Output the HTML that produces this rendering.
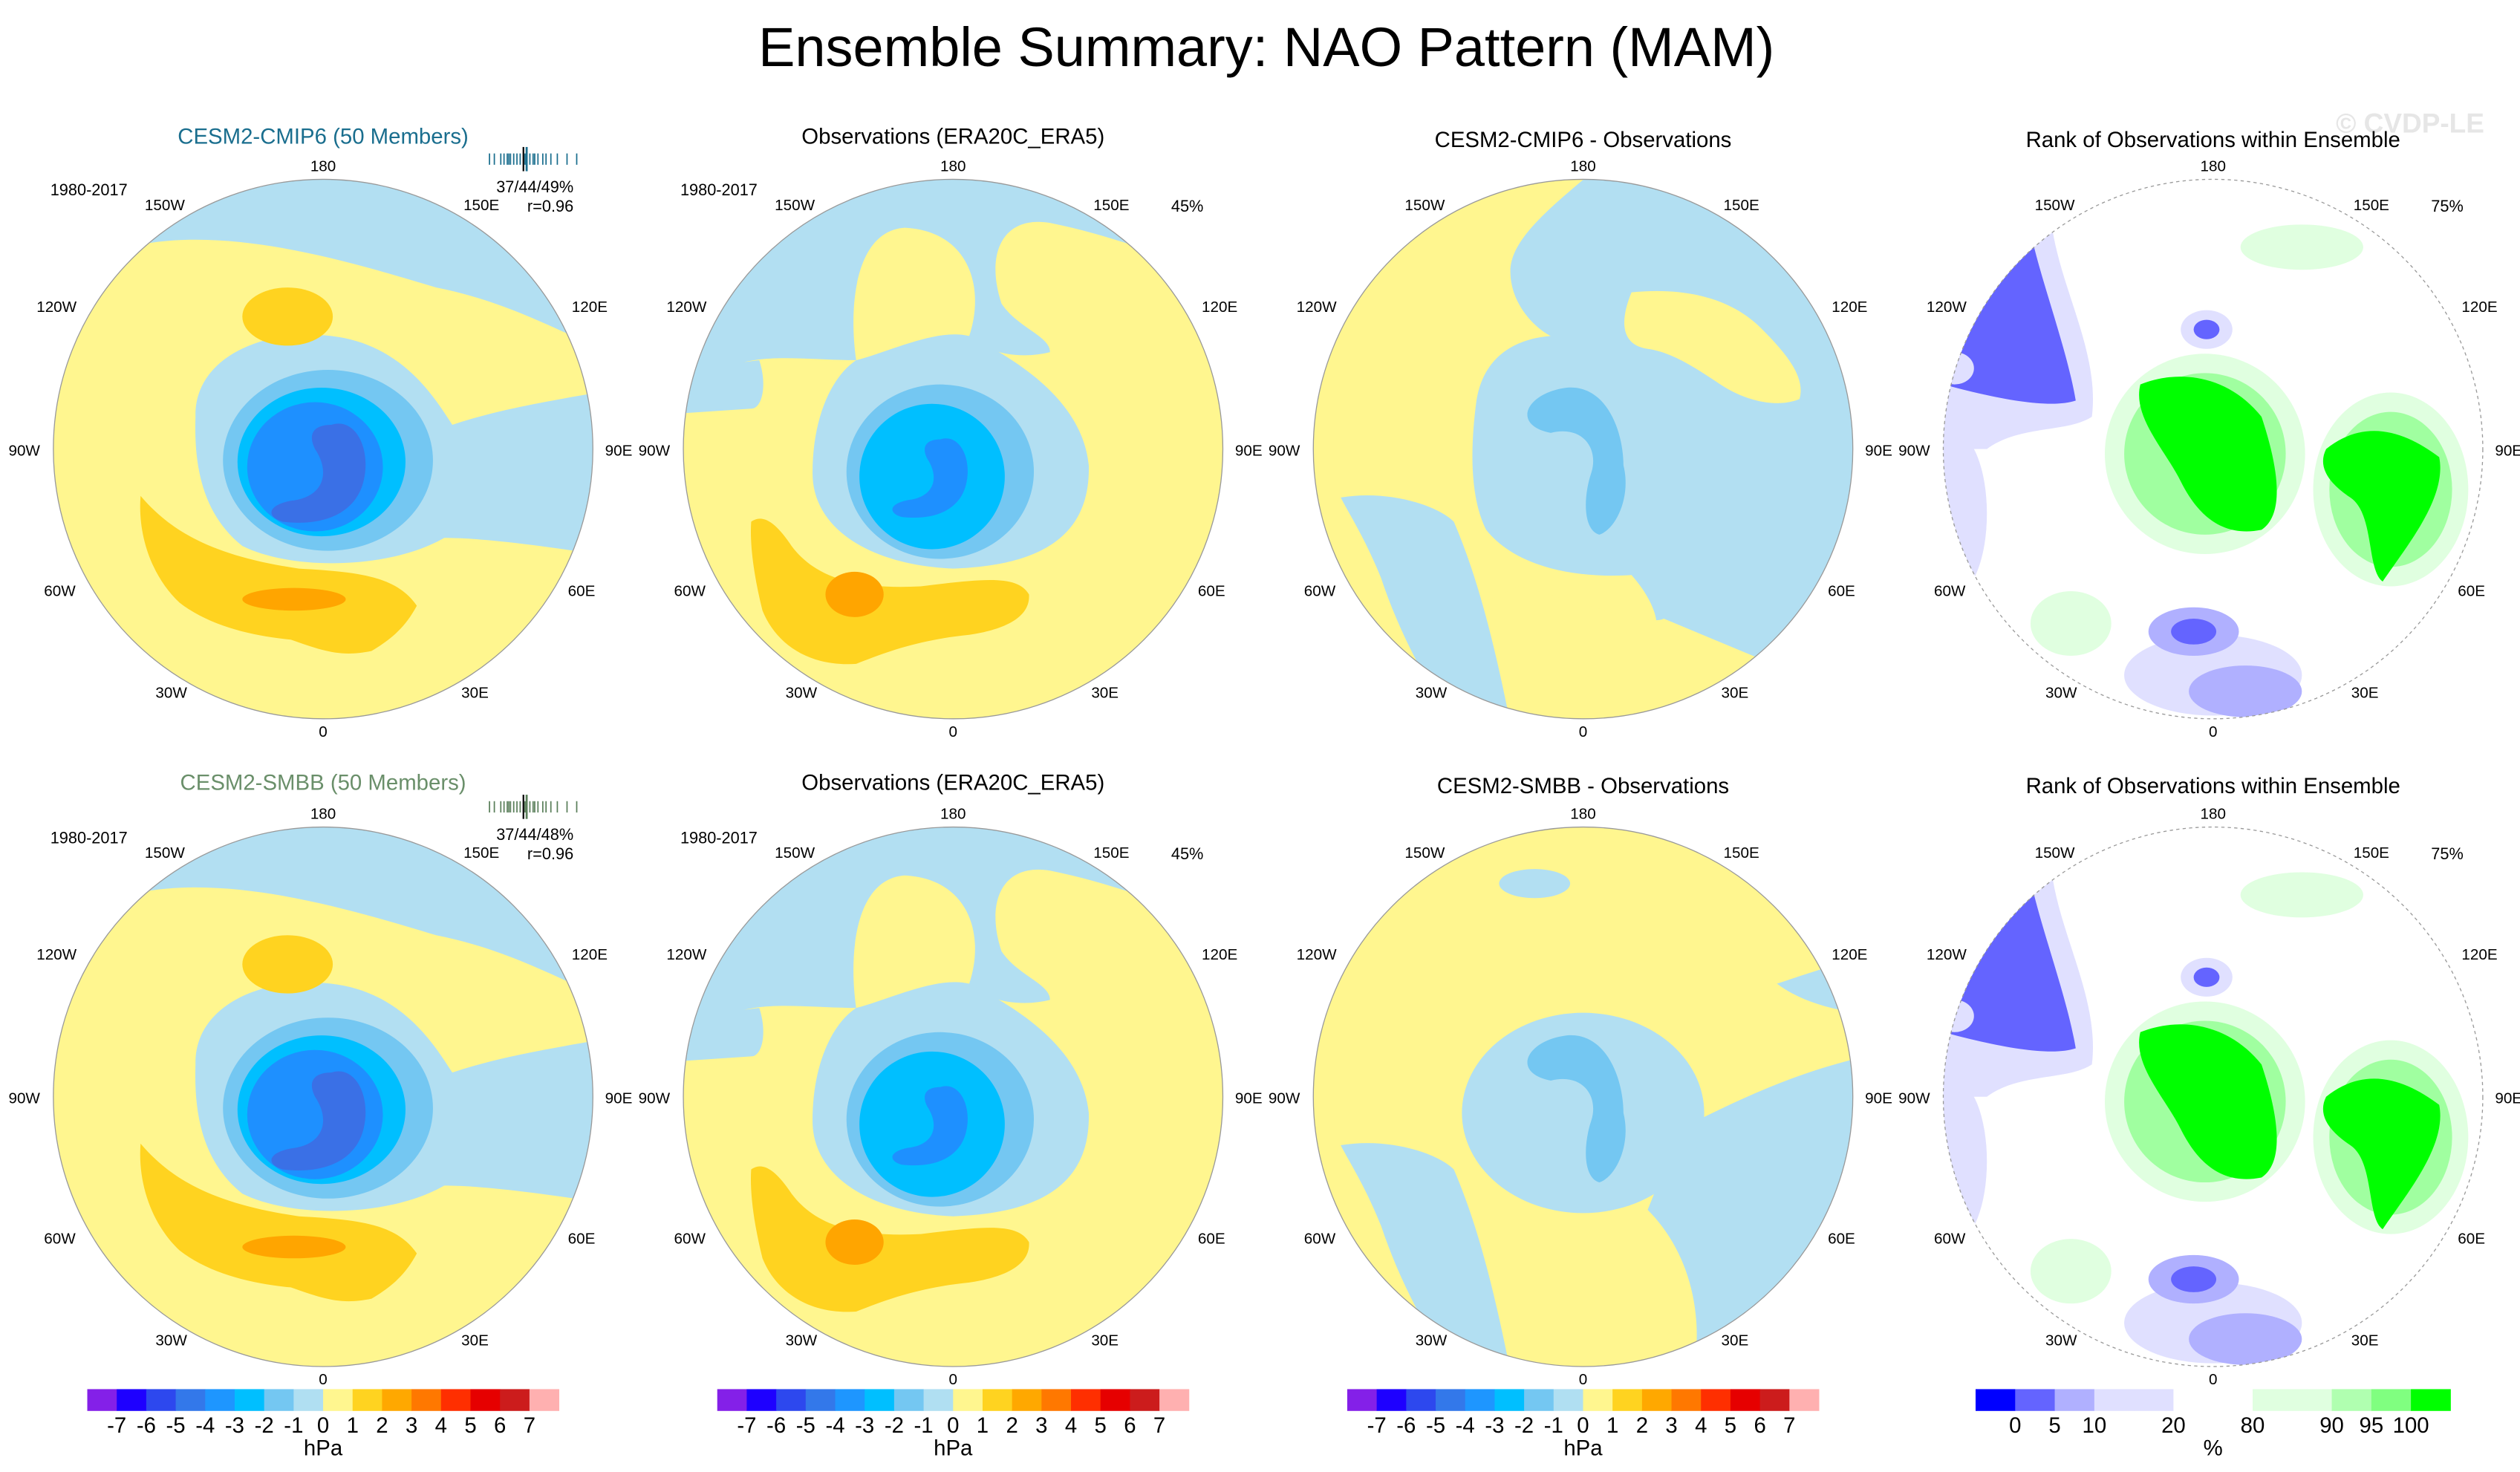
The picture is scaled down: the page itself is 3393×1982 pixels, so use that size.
<!DOCTYPE html>
<html><head><meta charset="utf-8"><style>
html,body{margin:0;padding:0;background:#fff}
svg{display:block}
text{font-family:"Liberation Sans",sans-serif}
</style></head><body>
<svg id="root" width="3393" height="1982" viewBox="0 0 1560 911.3" xmlns="http://www.w3.org/2000/svg">
<text x="784" y="41" font-size="34" text-anchor="middle" fill="#000">Ensemble Summary: NAO Pattern (MAM)</text>
<text x="1492" y="82" font-size="17" font-weight="bold" text-anchor="middle" fill="#e6e6e6">© CVDP-LE</text>
<g id="panels"></g>
<g id="bars"></g>
</svg>
<script>
const hpaLabels = ["-7","-6","-5","-4","-3","-2","-1","0","1","2","3","4","5","6","7"];
const hpaColors = ["#8420e8","#1e00ff","#2d48ee","#3378ea","#1e96ff","#00bfff","#74c7f2","#b0dff2","#fff68f","#ffd320","#ffa800","#ff7800","#ff2f00","#e60000","#cc1c1c","#ffb0b0"];
const rankLabels = ["0","5","10","","20","","80","","90","95","100"];
const rankColors = ["#0000ff","#6464ff","#b0b0ff","#e0e0ff","#e0e0ff","#ffffff","#ffffff","#e0ffe0","#e0ffe0","#b0ffb0","#80ff80","#00ff00"];
const colCenters = [200,590,980,1370];
const rowCenters = [278,679];

const Y1="#fff68f",Y2="#ffd320",Y3="#ffa500",B1="#b2dff2",B2="#74c7f2",B3="#00bfff",B4="#1e90ff",B5="#3a70e6";
function P(d,c){return `<path d="${d}" fill="${c}"/>`;}
function E(x,y,rx,ry,c){return `<ellipse cx="${x}" cy="${y}" rx="${rx}" ry="${ry}" fill="${c}"/>`;}
const crescent="M5,-15 C20,-20 30,0 25,20 C20,40 0,48 -25,45 C-35,42 -35,35 -20,32 C0,30 5,15 -5,0 C-10,-10 -5,-15 5,-15Z";
const model = ()=> P("M-200,-200 L200,-200 L200,-50 C150,-70 120,-90 70,-100 C20,-115 -60,-140 -120,-125 L-200,-120Z",B1)+
 P("M-79,-20 C-80,-55 -40,-75 5,-70 C50,-65 70,-30 80,-15 C110,-25 140,-30 200,-40 L200,70 C140,60 100,55 75,55 C40,75 -20,75 -50,60 C-75,40 -80,10 -79,-20Z",B1)+
 P("M-113,29 C-95,50 -70,66 -15,74 C20,76 45,78 58,97 C50,112 40,119 30,125 C11,129 0,125 -20,118 C-42,116 -70,110 -89,95 C-105,80 -115,55 -113,29Z",Y2)+
 E(-18,93,32,7,Y3)+E(-22,-82,28,18,Y2)+E(3,7,65,56,B2)+E(-1,8,52,46,B3)+E(-5,11,42,40,B4)+P(crescent,B5);
const obs = ()=> P("M-200,-200 L200,-200 L200,-100 C150,-110 110,-130 60,-140 C30,-145 20,-120 30,-90 C40,-75 60,-70 60,-60 C40,-55 20,-60 10,-70 C20,-100 10,-135 -30,-137 C-60,-135 -65,-90 -60,-55 C-90,-55 -120,-60 -140,-50 L-200,-45Z",B1)+
 P("M-200,-45 L-120,-55 C-115,-40 -118,-25 -125,-25 L-200,-20Z",B1)+
 P("M-60,-55 C-40,-60 -10,-75 10,-70 C40,-55 80,-30 84,10 C85,50 60,72 0,74 C-50,72 -87,50 -87,15 C-87,-20 -75,-45 -60,-55Z",B1)+
 P("M-125,45 C-118,40 -110,45 -100,60 C-85,80 -60,87 -20,85 C20,80 40,78 47,90 C48,105 30,112 10,115 C-20,118 -40,125 -60,133 C-90,135 -110,120 -118,100 C-123,80 -126,60 -125,45Z",Y2)+
 E(-61,90,18,14,Y3)+E(-8,14,58,54,B2)+E(-13,17,45,45,B3)+`<g transform="translate(-12,6) scale(0.8)">`+P(crescent,B4)+`</g>`;
const band = P("M-150,30 C-120,25 -90,35 -80,45 C-65,80 -55,120 -45,170 L-80,170 C-100,140 -115,110 -125,80 C-135,55 -145,40 -150,30Z",B1);
const crescent2 = P("M-10,-38 C15,-40 25,-10 25,10 C30,30 20,50 10,53 C0,50 0,30 5,15 C10,0 0,-15 -20,-10 C-45,-15 -35,-35 -10,-38Z",B2);
const diff1 = ()=> P("M10,-175 C-20,-150 -45,-130 -45,-110 C-45,-90 -30,-75 -20,-70 C-45,-68 -62,-55 -66,-30 C-70,0 -70,30 -60,50 C-40,75 0,80 30,78 C45,95 48,110 44,115 L200,200 L200,-200Z",B1)+
 P("M30,-97 C60,-100 90,-95 110,-75 C125,-60 138,-45 134,-31 C120,-25 100,-30 85,-40 C70,-50 55,-60 40,-62 C20,-65 25,-85 30,-97Z",Y1)+
 P("M-40,85 C0,95 40,110 50,105 L110,130 L200,200 L-200,200 L-200,160Z",Y1)+band+crescent2;
const diff2 = ()=> E(-30,-132,22,9,B1)+P("M60,20 C100,0 140,-20 200,-30 L200,200 L60,200 C80,150 70,100 40,70Z",B1)+
 E(0,10,75,62,B1)+P("M120,-70 C150,-80 180,-90 200,-90 L200,-50 C170,-50 140,-55 120,-70Z",B1)+band+crescent2;
const rank = ()=> P("M-100,-140 C-95,-100 -70,-60 -75,-20 C-90,-10 -120,-15 -140,0 L-200,0 L-200,-140Z","#e0e0ff")+
 P("M-112,-130 C-105,-100 -90,-60 -85,-30 C-100,-25 -130,-30 -167,-40 L-200,-60 L-200,-130Z","#6464ff")+
 E(-160,-50,12,10,"#e0e0ff")+E(-4,-74,16,12,"#e0e0ff")+E(-4,-74,8,6,"#6464ff")+
 E(-5,3,62,62,"#e0ffe0")+E(-5,3,50,50,"#a0ffa0")+P("M-45,-40 C-20,-50 10,-45 30,-20 C40,10 45,40 30,50 C5,55 -10,40 -20,20 C-30,0 -50,-20 -45,-40Z","#00ff00")+
 E(110,25,48,60,"#e0ffe0")+E(110,25,38,48,"#a0ffa0")+P("M70,0 C95,-20 120,-10 140,5 C145,30 120,60 105,82 C95,75 100,40 85,30 C70,20 65,10 70,0Z","#00ff00")+
 E(55,-125,38,14,"#e0ffe0")+E(-88,108,25,20,"#e0ffe0")+E(-160,40,20,50,"#e0e0ff")+
 E(0,140,55,25,"#e0e0ff")+E(20,150,35,16,"#b0b0ff")+E(-12,113,28,15,"#b0b0ff")+E(-12,113,14,8,"#6464ff");

const lonLabels=[["180",0,-172],["150W",-98,-148],["150E",98,-148],["120W",-165,-85],["120E",165,-85],["90W",-185,4],["90E",183,4],["60W",-163,91],["60E",160,91],["30W",-94,154],["30E",94,154],["0",0,178]];
const titles=[["CESM2-CMIP6 (50 Members)","Observations (ERA20C_ERA5)","CESM2-CMIP6 - Observations","Rank of Observations within Ensemble"],["CESM2-SMBB (50 Members)","Observations (ERA20C_ERA5)","CESM2-SMBB - Observations","Rank of Observations within Ensemble"]];
const titleColors=[["#1a6e8e","#000","#000","#000"],["#6a8f6a","#000","#000","#000"]];
const panels=document.getElementById('panels');
let html="";
rowCenters.forEach((cy,r)=>{colCenters.forEach((cx,c)=>{
  let body = c===0?model():c===1?obs():c===2?(r?diff2():diff1()):rank();
  let base = c===3?"#fff":Y1;
  let ty = r?489:89;
  html+=`<g>`;
  html+=`<text x="${cx}" y="${ty+(c>=2?2:0)}" font-size="13.5" text-anchor="middle" fill="${titleColors[r][c]}">${titles[r][c]}</text>`;
  html+=`<clipPath id="cp${r}${c}"><circle cx="0" cy="0" r="167"/></clipPath>`;
  html+=`<g transform="translate(${cx},${cy})"><g clip-path="url(#cp${r}${c})"><circle r="167" fill="${base}"/>${body}</g>`;
  html+=`<circle r="167" fill="none" stroke="#999" stroke-width="0.6" ${c===3?'stroke-dasharray="2,2"':''}/>`;
  lonLabels.forEach(l=>{html+=`<text x="${l[1]}" y="${l[2]}" font-size="9.5" text-anchor="middle" fill="#000">${l[0]}</text>`;});
  if(c<2) html+=`<text x="-145" y="-157" font-size="10" text-anchor="middle">1980-2017</text>`;
  if(c===1) html+=`<text x="145" y="-147" font-size="10" text-anchor="middle">45%</text>`;
  if(c===3) html+=`<text x="145" y="-147" font-size="10" text-anchor="middle">75%</text>`;
  if(c===0){
    const sc = r?"#5a7f5a":"#1a6e8e";
    html+=`<g>`;
    [103,106,110,112,114,115,116,118,120,122,124,125,126,128,130,131,133,136,138,141,145,151,157].forEach(x=>{html+=`<line x1="${x}" x2="${x}" y1="-183" y2="-176" stroke="${sc}" stroke-width="0.8"/>`;});
    html+=`<line x1="124" x2="124" y1="-187" y2="-172" stroke="#000" stroke-width="1"/><line x1="126" x2="126" y1="-187" y2="-172" stroke="${sc}" stroke-width="1.3"/></g>`;
    html+=`<text x="155" y="-159" font-size="10" text-anchor="end">37/44/${r?48:49}%</text>`;
    html+=`<text x="155" y="-147" font-size="10" text-anchor="end">r=0.96</text>`;
  }
  html+=`</g></g>`;
});});
panels.innerHTML=html;

const bars=document.getElementById('bars');
const NS="http://www.w3.org/2000/svg";
function el(tag,a,p){const e=document.createElementNS(NS,tag);for(const k in a)e.setAttribute(k,a[k]);p.appendChild(e);return e;}
for(let c=0;c<3;c++){
  const g=el('g',{},bars);
  
  
  const x0=colCenters[c]-146, w=292/hpaColors.length;
  hpaColors.forEach((col,i)=>{
    const r=el('rect',{x:x0+i*w,y:860,width:w+0.2,height:13.5,fill:col},g);
    
    
  });
  hpaLabels.forEach((t,i)=>{
    const tx=el('text',{x:x0+(i+1)*w,y:887,'font-size':13.5,'text-anchor':'middle'},g);
    tx.textContent=t;
    
    
  });
  const u=el('text',{x:colCenters[c],y:901,'font-size':13.5,'text-anchor':'middle'},g);
  u.textContent='hPa';
  
  
}
{
  const g=el('g',{},bars);
  
  
  const x0=1223, w=294/rankColors.length;
  rankColors.forEach((col,i)=>{
    const r=el('rect',{x:x0+i*w,y:860,width:w+0.2,height:13.5,fill:col},g);
    
    
  });
  rankLabels.forEach((t,i)=>{
    if(!t) return;
    const tx=el('text',{x:x0+(i+1)*w,y:887,'font-size':13.5,'text-anchor':'middle'},g);
    tx.textContent=t;
    
    
  });
  const u=el('text',{x:1370,y:901,'font-size':13.5,'text-anchor':'middle'},g);
  u.textContent='%';
  
  
}
</script>
</body></html>
